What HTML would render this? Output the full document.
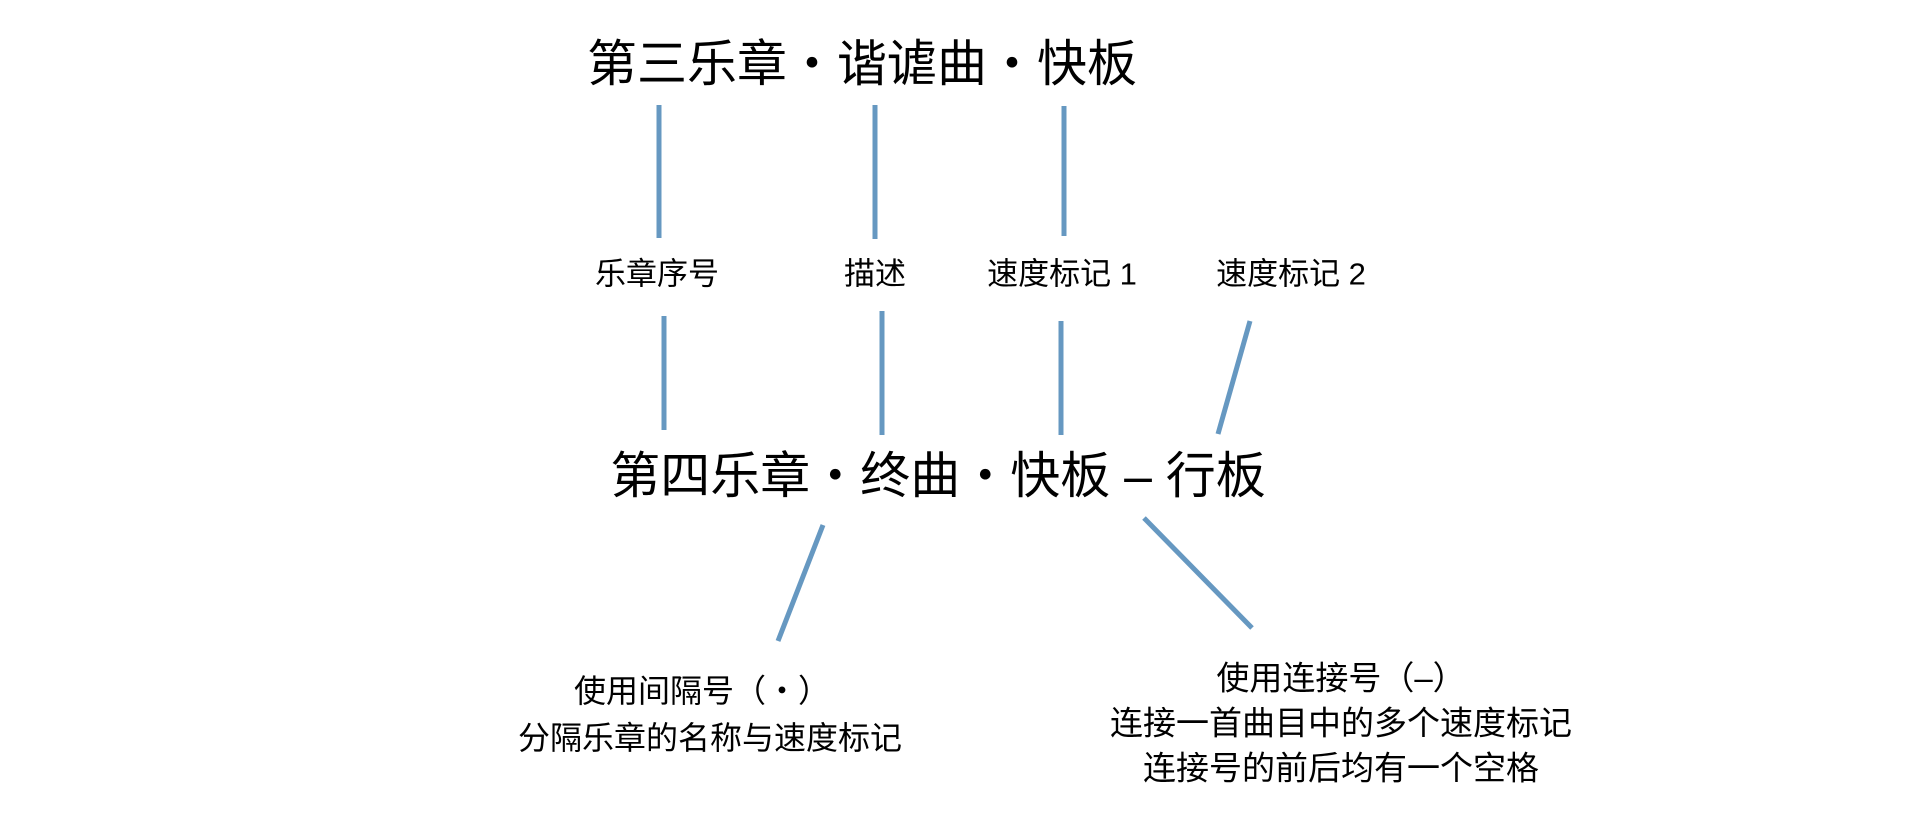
<!DOCTYPE html>
<html><head><meta charset="utf-8"><style>
html,body{margin:0;padding:0;background:#fff;}
body{width:1910px;height:823px;position:relative;overflow:hidden;font-family:"Liberation Sans","Noto Sans CJK SC",sans-serif;color:#000;}
.t{position:absolute;white-space:nowrap;line-height:1;transform:translate(-50%,-50%);}
svg{position:absolute;left:0;top:0;}
</style></head><body>
<svg width="1910" height="823"><g stroke="#6698c1" stroke-width="5" fill="none">
<line x1="659" y1="105" x2="659" y2="238"/>
<line x1="875" y1="105" x2="875" y2="239"/>
<line x1="1064" y1="106" x2="1064" y2="236"/>
<line x1="664" y1="316" x2="664" y2="430"/>
<line x1="882" y1="311" x2="882" y2="435"/>
<line x1="1061" y1="321" x2="1061" y2="435"/>
<line x1="1250" y1="321" x2="1218" y2="434"/>
<line x1="823" y1="525" x2="778" y2="641"/>
<line x1="1144" y1="518" x2="1252" y2="628"/>
</g></svg>
<div class="t" style="left:862px;top:64px;font-size:50px;">第三乐章・谐谑曲・快板</div>
<div class="t" style="left:657px;top:274px;font-size:31px;">乐章序号</div>
<div class="t" style="left:875px;top:274px;font-size:31px;">描述</div>
<div class="t" style="left:1062px;top:274px;font-size:31px;">速度标记 1</div>
<div class="t" style="left:1291px;top:274px;font-size:31px;">速度标记 2</div>
<div class="t" style="left:938px;top:476px;font-size:50px;">第四乐章・终曲・快板 – 行板</div>
<div class="t" style="left:702px;top:691px;font-size:32px;">使用间隔号（・）</div>
<div class="t" style="left:710px;top:738px;font-size:32px;">分隔乐章的名称与速度标记</div>
<div class="t" style="left:1341px;top:678px;font-size:33px;">使用连接号（–）</div>
<div class="t" style="left:1341px;top:723px;font-size:33px;">连接一首曲目中的多个速度标记</div>
<div class="t" style="left:1341px;top:768px;font-size:33px;">连接号的前后均有一个空格</div>
</body></html>
